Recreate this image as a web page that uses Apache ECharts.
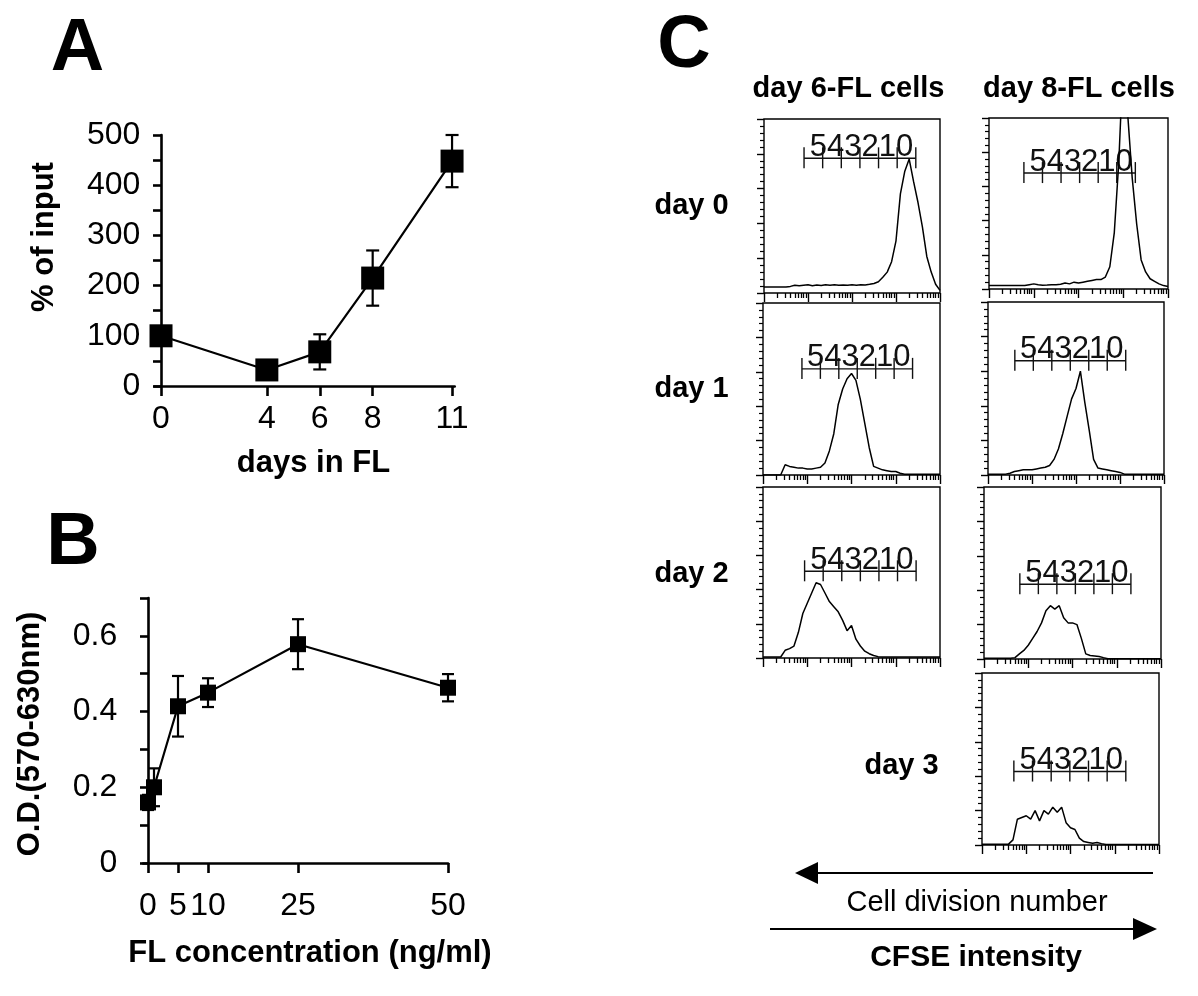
<!DOCTYPE html>
<html><head><meta charset="utf-8">
<script src="https://cdn.jsdelivr.net/npm/echarts@6/dist/echarts.min.js"></script>
<style>html,body{margin:0;padding:0;background:#fff}#c{width:1198px;height:996px}</style>
</head><body><div id="c"></div><script>
// ---------- Panel A data ----------
const daysInFL = [0, 4, 6, 8, 11];
const pctOfInput = [100, 32, 68, 215, 448];
const pctErr = [4, 4, 35, 55, 52];
const ticksA_x = [0, 4, 6, 8, 11];
const ticksA_y = [0, 100, 200, 300, 400, 500];
const ticksA_yMinor = [0, 50, 100, 150, 200, 250, 300, 350, 400, 450, 500];

// ---------- Panel B data ----------
const flConc = [0, 1, 5, 10, 25, 50];
const odValue = [0.16, 0.2, 0.414, 0.45, 0.578, 0.463];
const odErr = [0.02, 0.05, 0.08, 0.038, 0.066, 0.036];
const ticksB_x = [0, 5, 10, 25, 50];
const ticksB_y = [0, 0.2, 0.4, 0.6];
const ticksB_yMinor = [0, 0.1, 0.2, 0.3, 0.4, 0.5, 0.6, 0.7];

// ---------- Panel C data (CFSE histograms, % of plot height per 0.1-decade bin) ----------
const decadeTicks = [0, 1, 2, 3, 4];
const logMinorSteps = [2, 3, 4, 5, 6, 7, 8, 9];
const hist_d6_day0 = [3.5,3.5,3.5,3.5,3.5,3.5,3.8, 4.5,4.2,4.5,4.8,4.2,4.6,4.3, 4.8,4.5,4.8,4.4,4.6,4.5,4.7, 4.5,4.8,4.6,5,5.5,6.5,9, 12,18,30,57,70,77,64, 52,38,21,12,5,1.5];
const hist_d6_day1 = [0,0,0,0,0,6,5, 4.5,4,4,3.5,3.5,4,4.5, 7,14,24,41,50,56,59, 55,44,30,16,5,4,3, 2.5,2,2,1,0.5,0.5,0.5, 0.5,0.5,0.5,0.5,0.5,0.5];
const hist_d6_day2 = [0.6,0.6,0.6,0.6,0.6,4.5,5.5, 7,15,26,32,38,44,43, 38,33,30,27,22,16,19, 11,7,4,2.5,1.5,0.8,0.6, 0.6,0.6,0.6,0.6,0.6,0.6,0.6, 0.6,0.6,0.6,0.6,0.6,0.6];
const hist_d8_day0 = [2,2,2,2,2,2,2, 2,2,2.5,3,2.5,2.2,2.3, 2.5,2.5,2.8,3.5,3,4,3.5, 4,4.5,5,5.5,5.5,7,13, 33,74,135,102,65,38,17, 10,6,4.5,3,2,1.5];
const hist_d8_day1 = [0.5,0.5,0.5,0.5,0.5,1,2, 2.5,3,3,3,3.5,4,4.5, 5.5,9,15,24,34,44,50, 60,42,26,9,4,3.5,3, 2.5,2,1.5,0.5,0.5,0.5,0.5, 0.5,0.5,0.5,0.5,0.5,0.5];
const hist_d8_day2 = [0.4,0.4,0.4,0.4,0.4,0.4,0.4, 0.8,3,5,8,12,16,21, 28,31,29,31,24,21,21, 20,12,3,2,1.8,1.5,0.8, 0.2,0.2,0.2,0.2,0.2,0.2,0.2, 0.2,0.2,0.2,0.2,0.2,0.2];
const hist_d8_day3 = [0.5,0.5,0.5,0.5,0.5,0.5,0.5, 3,15,16,17,15,20,14, 20,18,22,19,22,13,10, 9,4,2,1.5,1,1.5,0.8, 0.3,0.3,0.3,0.3,0.3,0.3,0.3, 0.3,0.3,0.3,0.3,0.3,0.3];
// division gates: [start decade, end decade, height %]
const gate_d6_day0 = [0.91, 3.45, 77.4];
const gate_d6_day1 = [0.88, 3.38, 61.7];
const gate_d6_day2 = [0.94, 3.46, 50.7];
const gate_d8_day0 = [0.78, 3.27, 67.8];
const gate_d8_day1 = [0.61, 3.13, 66.0];
const gate_d8_day2 = [0.81, 3.32, 43.5];
const gate_d8_day3 = [0.72, 3.25, 42.7];
const divisionLabels = ['5', '4', '3', '2', '1', '0'];
const colLabels = ['day 6-FL cells', 'day 8-FL cells'];
const rowLabels = ['day 0', 'day 1', 'day 2', 'day 3'];
const panelLetters = ['A', 'B', 'C'];

// ---------- layout ----------
const FONT = '"Liberation Sans", Arial, Helvetica, sans-serif';
const panelsC = [
  {hist: hist_d6_day0, gate: gate_d6_day0, box: {left: 764, top: 119, width: 176, height: 174}},
  {hist: hist_d6_day1, gate: gate_d6_day1, box: {left: 763, top: 303, width: 177, height: 172}},
  {hist: hist_d6_day2, gate: gate_d6_day2, box: {left: 763, top: 487, width: 177, height: 171}},
  {hist: hist_d8_day0, gate: gate_d8_day0, box: {left: 989, top: 118, width: 179, height: 171}},
  {hist: hist_d8_day1, gate: gate_d8_day1, box: {left: 988, top: 302, width: 176, height: 173}},
  {hist: hist_d8_day2, gate: gate_d8_day2, box: {left: 984, top: 487, width: 177, height: 172}},
  {hist: hist_d8_day3, gate: gate_d8_day3, box: {left: 982, top: 673, width: 177, height: 172}}
];
const binPos = hist_d6_day0.map((_, i) => i / 10);
const minorPos = [];
decadeTicks.slice(0, 4).forEach(d => logMinorSteps.forEach(k => minorPos.push(d + Math.log10(k))));

function errorBarRenderer(halfCap, lw) {
  return function (params, api) {
    const x = api.value(0), lo = api.value(1), hi = api.value(2);
    const pLo = api.coord([x, lo]), pHi = api.coord([x, hi]);
    const st = {stroke: '#000', lineWidth: lw};
    return {type: 'group', children: [
      {type: 'line', shape: {x1: pLo[0], y1: pLo[1], x2: pHi[0], y2: pHi[1]}, style: st},
      {type: 'line', shape: {x1: pHi[0] - halfCap, y1: pHi[1], x2: pHi[0] + halfCap, y2: pHi[1]}, style: st},
      {type: 'line', shape: {x1: pLo[0] - halfCap, y1: pLo[1], x2: pLo[0] + halfCap, y2: pLo[1]}, style: st}
    ]};
  };
}
function rulerRenderer(params, api) {
  const x0 = api.value(0), x1 = api.value(1), y = api.value(2);
  const p0 = api.coord([x0, y]), p1 = api.coord([x1, y]);
  const n = divisionLabels.length;
  const step = (p1[0] - p0[0]) / n;
  const st = {stroke: '#111', lineWidth: 1.4};
  const ch = [{type: 'line', shape: {x1: p0[0], y1: p0[1], x2: p1[0], y2: p1[1]}, style: st}];
  for (let i = 0; i <= n; i++) {
    const x = p0[0] + step * i;
    ch.push({type: 'line', shape: {x1: x, y1: p0[1] - 11, x2: x, y2: p0[1] + 10}, style: st});
  }
  ch.push({type: 'text', style: {text: divisionLabels.join(''), x: (p0[0] + p1[0]) / 2 + 1.5, y: p0[1] - 11,
    align: 'center', verticalAlign: 'middle', font: '31px ' + FONT, fill: '#111'}});
  return {type: 'group', children: ch};
}

const grids = [
  {left: 154.4, top: 135, width: 300.3, height: 251},
  {left: 143.2, top: 598, width: 304.8, height: 265}
];
const xAxes = [
  {gridIndex: 0, type: 'value', min: -0.25, max: 11.1,
   axisLine: {onZero: false, lineStyle: {color: '#000', width: 2.6}},
   axisTick: {customValues: ticksA_x, length: 10, lineStyle: {color: '#000', width: 2.6}},
   axisLabel: {customValues: ticksA_x, fontSize: 32, margin: 17, color: '#000', fontFamily: FONT},
   splitLine: {show: false}},
  {gridIndex: 1, type: 'value', min: -0.8, max: 50,
   axisLine: {onZero: false, lineStyle: {color: '#000', width: 2.6}},
   axisTick: {customValues: ticksB_x, length: 10, lineStyle: {color: '#000', width: 2.6}},
   axisLabel: {customValues: ticksB_x, fontSize: 32, margin: 27, color: '#000', fontFamily: FONT},
   splitLine: {show: false}}
];
const yAxes = [
  {gridIndex: 0, type: 'value', min: 0, max: 500,
   axisLine: {show: true, onZero: true, lineStyle: {color: '#000', width: 2.6}},
   axisTick: {customValues: ticksA_yMinor, length: 8, lineStyle: {color: '#000', width: 2.6}},
   axisLabel: {customValues: ticksA_y, fontSize: 32, margin: 14, color: '#000', fontFamily: FONT, padding: [6, 0, 0, 0]},
   splitLine: {show: false}},
  {gridIndex: 1, type: 'value', min: 0, max: 0.7,
   axisLine: {show: true, onZero: true, lineStyle: {color: '#000', width: 2.6}},
   axisTick: {customValues: ticksB_yMinor, length: 8, lineStyle: {color: '#000', width: 2.6}},
   axisLabel: {customValues: ticksB_y, fontSize: 32, margin: 26, color: '#000', fontFamily: FONT},
   splitLine: {show: false}}
];
const series = [
  {type: 'line', xAxisIndex: 0, yAxisIndex: 0, data: daysInFL.map((d, i) => [d, pctOfInput[i]]),
   symbol: 'rect', symbolSize: 23, itemStyle: {color: '#000'}, lineStyle: {color: '#000', width: 2.2}, z: 3},
  {type: 'custom', xAxisIndex: 0, yAxisIndex: 0, renderItem: errorBarRenderer(6.5, 2.2),
   encode: {x: 0, y: [1, 2]},
   data: daysInFL.map((d, i) => [d, pctOfInput[i] - pctErr[i], pctOfInput[i] + pctErr[i]]), z: 2},
  {type: 'line', xAxisIndex: 1, yAxisIndex: 1, data: flConc.map((c, i) => [c, odValue[i]]),
   symbol: 'rect', symbolSize: 16, itemStyle: {color: '#000'}, lineStyle: {color: '#000', width: 2.2}, z: 3},
  {type: 'custom', xAxisIndex: 1, yAxisIndex: 1, renderItem: errorBarRenderer(6, 2.2),
   encode: {x: 0, y: [1, 2]},
   data: flConc.map((c, i) => [c, odValue[i] - odErr[i], odValue[i] + odErr[i]]), z: 2}
];

panelsC.forEach((p, k) => {
  const gi = grids.length;
  grids.push(Object.assign({show: true, borderColor: '#000', borderWidth: 1.4, backgroundColor: 'transparent'}, p.box));
  const xMajor = xAxes.length;
  xAxes.push({gridIndex: gi, type: 'value', min: 0, max: 4, position: 'bottom',
    axisLine: {show: false}, axisLabel: {show: false}, splitLine: {show: false},
    axisTick: {customValues: decadeTicks, length: 9, lineStyle: {color: '#000', width: 1.4}}});
  xAxes.push({gridIndex: gi, type: 'value', min: 0, max: 4, position: 'bottom', offset: 0,
    axisLine: {show: false}, axisLabel: {show: false}, splitLine: {show: false},
    axisTick: {customValues: minorPos, length: 5, lineStyle: {color: '#000', width: 1.3}}});
  const yi = yAxes.length;
  yAxes.push({gridIndex: gi, type: 'value', min: 0, max: 100, interval: 20,
    axisLine: {show: false}, axisLabel: {show: false}, splitLine: {show: false},
    axisTick: {length: 7, lineStyle: {color: '#000', width: 1.4}},
    minorTick: {show: true, splitNumber: 5, length: 4, lineStyle: {color: '#000', width: 1.2}},
    minorSplitLine: {show: false}});
  series.push({type: 'line', xAxisIndex: xMajor, yAxisIndex: yi, data: binPos.map((x, i) => [x, p.hist[i]]),
    symbol: 'none', clip: true, lineStyle: {color: '#000', width: 1.5}});
  series.push({type: 'custom', xAxisIndex: xMajor, yAxisIndex: yi, renderItem: rulerRenderer,
    encode: {x: [0, 1], y: 2}, data: [p.gate], clip: false});
});

function txt(text, x, y, size, bold, rot) {
  return {type: 'text', x: x, y: y, rotation: rot || 0, silent: true,
    style: {text: text, font: (bold ? 'bold ' : '') + size + 'px ' + FONT, fill: '#000', align: 'center', verticalAlign: 'middle'}};
}
const graphics = [
  txt(panelLetters[0], 77.5, 50, 74, true),
  txt(panelLetters[1], 73, 544, 74, true),
  txt(panelLetters[2], 684, 47, 74, true),
  txt('% of input', 44, 237, 31, true, Math.PI / 2),
  txt('days in FL', 313.5, 463, 31, true),
  txt('O.D.(570-630nm)', 30, 734, 31, true, Math.PI / 2),
  txt('FL concentration (ng/ml)', 310, 953, 31, true),
  txt(colLabels[0], 848.5, 89, 29, true),
  txt(colLabels[1], 1079, 89, 29, true),
  txt(rowLabels[0], 691.5, 206, 29, true),
  txt(rowLabels[1], 691.5, 388.5, 29, true),
  txt(rowLabels[2], 691.5, 574, 29, true),
  txt(rowLabels[3], 901.5, 766, 29, true),
  {type: 'line', shape: {x1: 1153, y1: 873, x2: 814, y2: 873}, style: {stroke: '#000', lineWidth: 2.2}},
  {type: 'polygon', shape: {points: [[795, 873], [818, 862], [818, 884]]}, style: {fill: '#000'}},
  txt('Cell division number', 977, 903, 29, false),
  {type: 'line', shape: {x1: 770, y1: 929, x2: 1138, y2: 929}, style: {stroke: '#000', lineWidth: 2.2}},
  {type: 'polygon', shape: {points: [[1157, 929], [1133, 918], [1133, 940]]}, style: {fill: '#000'}},
  txt('CFSE intensity', 976, 958, 30, true)
];

const chart = echarts.init(document.getElementById('c'), null, {renderer: 'canvas'});
chart.setOption({
  animation: false,
  backgroundColor: '#fff',
  textStyle: {fontFamily: FONT},
  grid: grids, xAxis: xAxes, yAxis: yAxes, series: series,
  graphic: {elements: graphics}
});
</script></body></html>
